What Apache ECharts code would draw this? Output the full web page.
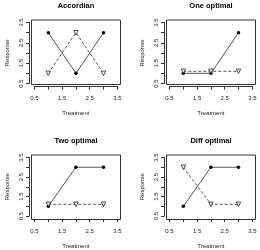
<!DOCTYPE html>
<html>
<head>
<meta charset="utf-8">
<script src="https://cdn.jsdelivr.net/npm/echarts@6/dist/echarts.min.js"></script>
<style>
html,body{margin:0;padding:0;background:#fff;}
#c{width:260px;height:250px;}
</style>
</head>
<body>
<div id="c"></div>
<script>
const treatments = [1, 2, 3];
const titles = ['Accordian', 'One optimal', 'Two optimal', 'Diff optimal'];
const tickLabels = ['0.5', '1.5', '2.5', '3.5'];
const accordianOpt = [3, 1, 3];
const accordianAlt = [1, 3, 1];
const oneOpt = [1, 1, 3];
const oneAlt = [1.1, 1.1, 1.1];
const twoOpt = [1, 3, 3];
const twoAlt = [1.1, 1.1, 1.1];
const diffOpt = [1, 3, 3];
const diffAlt = [3, 1.1, 1.1];

const panels = [
  {title: titles[0], opt: accordianOpt, alt: accordianAlt, ox: 0, oy: 0},
  {title: titles[1], opt: oneOpt, alt: oneAlt, ox: 135, oy: 0},
  {title: titles[2], opt: twoOpt, alt: twoAlt, ox: 0, oy: 135},
  {title: titles[3], opt: diffOpt, alt: diffAlt, ox: 135, oy: 135}
];

const FONT = 'Liberation Sans';
const INK = '#222';
const grids = [], xAxes = [], yAxes = [], series = [], titleList = [];
const fmt = v => { const s = (Math.round(v * 10) / 10).toFixed(1); return tickLabels.includes(s) ? s : ''; };

panels.forEach((p, i) => {
  const gb = 2 * i, gd = 2 * i + 1;
  grids.push({left: p.ox + 31.5, top: p.oy + 20, width: 89, height: 64.5, show: true,
    borderColor: '#333', borderWidth: 1, backgroundColor: 'transparent', containLabel: false});
  grids.push({left: p.ox + 34.5, top: p.oy + 22.5, width: 82.8, height: 61, containLabel: false});
  xAxes.push({gridIndex: gb, type: 'value', show: false, min: 0, max: 1});
  yAxes.push({gridIndex: gb, type: 'value', show: false, min: 0, max: 1});
  xAxes.push({gridIndex: gd, type: 'value', min: 0.5, max: 3.5, interval: 0.5, position: 'bottom', offset: 3,
    name: 'Treatment', nameLocation: 'middle', nameGap: 24,
    nameTextStyle: {fontFamily: FONT, fontSize: 6, color: INK},
    axisLine: {show: true, lineStyle: {color: '#333', width: 1}},
    axisTick: {show: true, length: 3, lineStyle: {color: '#333'}},
    axisLabel: {fontFamily: FONT, fontSize: 6, color: INK, margin: 9, formatter: fmt},
    splitLine: {show: false}});
  yAxes.push({gridIndex: gd, type: 'value', min: 0.5, max: 3.5, interval: 0.5, position: 'left', offset: 5.5,
    name: 'Response', nameLocation: 'middle', nameGap: 19, nameRotate: 90,
    nameTextStyle: {fontFamily: FONT, fontSize: 6, color: INK},
    axisLine: {show: true, lineStyle: {color: '#333', width: 1}},
    axisTick: {show: true, length: 3, lineStyle: {color: '#333'}},
    axisLabel: {fontFamily: FONT, fontSize: 6, color: INK, margin: 5, rotate: 90, formatter: fmt},
    splitLine: {show: false}});
  titleList.push({text: p.title, left: p.ox + 76, top: p.oy + 2, textAlign: 'center', padding: 0,
    textStyle: {fontFamily: FONT, fontSize: 7.5, fontWeight: 'bold', color: '#000'}});
  series.push({type: 'line', xAxisIndex: gd, yAxisIndex: gd,
    data: treatments.map((t, k) => [t, p.opt[k]]),
    symbol: 'circle', symbolSize: 3.5, showSymbol: true,
    lineStyle: {color: '#444', width: 0.9, type: 'solid'},
    itemStyle: {color: '#000'}, animation: false, silent: true});
  series.push({type: 'line', xAxisIndex: gd, yAxisIndex: gd,
    data: treatments.map((t, k) => [t, p.alt[k]]),
    symbol: 'triangle', symbolSize: 4.5, symbolRotate: 180, showSymbol: true,
    lineStyle: {color: '#444', width: 0.9, type: [3, 2]},
    itemStyle: {color: '#fff', borderColor: '#222', borderWidth: 0.8}, animation: false, silent: true});
});

const chart = echarts.init(document.getElementById('c'), null, {renderer: 'canvas'});
chart.setOption({
  animation: false,
  backgroundColor: '#fff',
  title: titleList,
  grid: grids,
  xAxis: xAxes,
  yAxis: yAxes,
  series: series
});
</script>
</body>
</html>
